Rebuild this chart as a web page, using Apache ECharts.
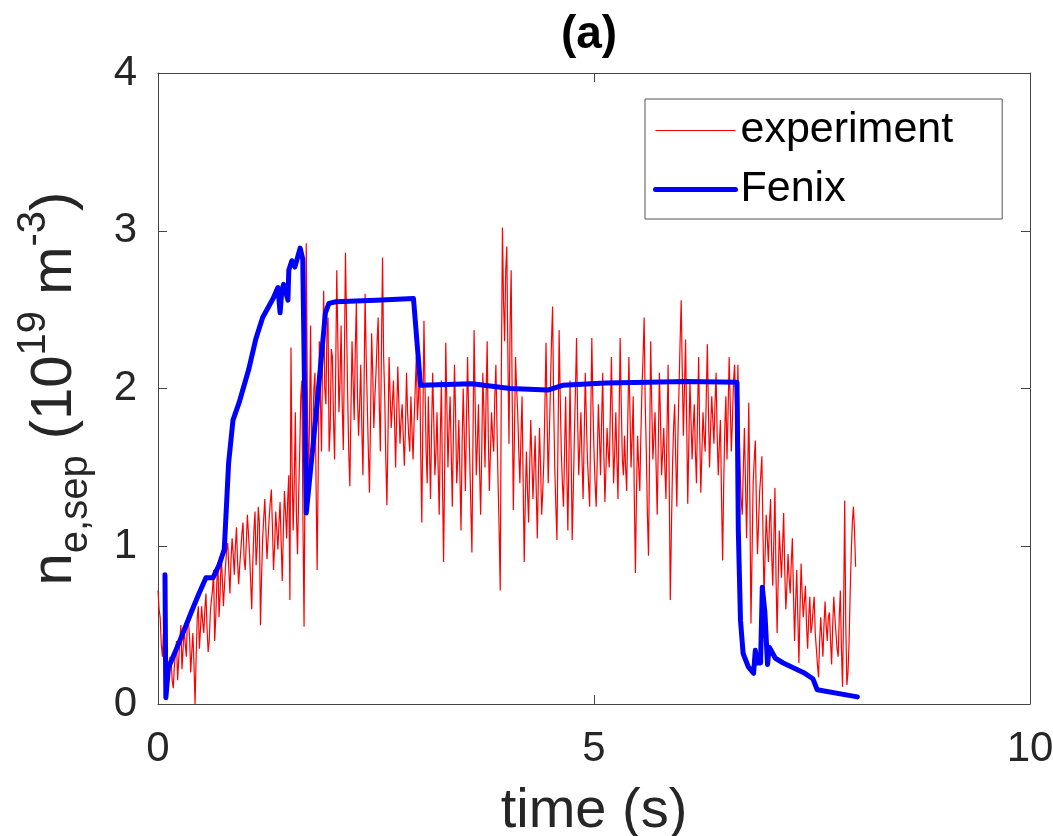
<!DOCTYPE html>
<html>
<head>
<meta charset="utf-8">
<script src="https://cdn.jsdelivr.net/npm/echarts@6/dist/echarts.min.js"></script>
<style>html,body{margin:0;padding:0;background:#fff}#c{width:1053px;height:836px}</style>
</head>
<body>
<div id="c"></div>
<script>
// ---- data ----
var seriesNames = ['experiment', 'Fenix'];
var titleText = '(a)';
var xName = 'time (s)';
// experiment: sampled every expStep seconds starting at expStart (one row = 0.5 s)
var expStart = 0;
var expStep = 0.0125;
var expValues = [
0.72,0.60,0.55,0.38,0.30,0.45,0.12,0.22,0.35,0.25,0.18,0.30,0.28,0.15,0.10,0.24,0.32,0.40,0.15,0.28,0.40,0.50,0.22,0.35,0.48,0.38,0.30,0.55,0.52,0.42,0.20,0.33,0.45,0.25,0.00,0.30,0.55,0.62,0.35,0.48,
0.62,0.52,0.45,0.60,0.70,0.48,0.33,0.40,0.58,0.66,0.72,0.85,0.40,0.55,0.78,0.90,0.55,0.70,0.95,0.80,0.62,0.75,0.88,0.98,1.02,0.85,0.70,0.92,1.05,0.95,0.82,1.00,1.12,0.90,0.76,0.88,0.98,1.08,1.15,0.92,
0.85,1.02,1.20,1.08,0.95,0.78,0.60,0.90,1.10,1.22,0.88,1.00,1.25,1.15,0.50,0.80,1.05,1.18,1.30,1.10,0.92,1.05,1.18,1.28,1.36,1.12,0.85,1.00,1.22,1.10,0.98,1.15,1.28,1.02,0.78,1.10,1.35,1.22,1.05,1.30,
1.45,0.66,2.26,1.50,1.10,1.40,1.85,1.20,0.95,1.30,1.60,1.95,2.05,1.15,0.49,1.60,2.92,2.00,1.35,1.80,2.40,1.55,1.70,2.00,2.10,1.40,0.85,1.50,2.30,1.95,1.60,2.20,2.62,2.00,1.90,2.35,2.45,1.60,1.75,2.25,
2.20,1.80,1.55,2.10,2.75,2.30,1.85,2.05,2.40,1.90,1.61,2.20,2.86,2.40,1.95,1.60,1.38,1.85,2.30,2.05,1.80,2.25,2.55,1.95,1.70,1.90,2.15,1.75,1.45,2.00,2.60,2.20,1.90,1.60,1.34,1.80,2.35,2.10,1.75,1.95,
2.10,2.30,2.45,1.90,1.60,2.25,2.83,2.20,1.95,1.55,1.26,1.70,2.20,1.95,1.75,1.90,2.05,1.80,1.50,1.85,2.14,1.90,1.65,1.80,1.90,1.70,1.51,1.75,2.10,1.85,1.70,1.60,1.95,1.75,1.55,1.80,2.00,2.20,1.80,1.95,
2.22,1.60,1.15,1.80,2.43,2.00,1.60,1.40,1.95,1.65,1.30,1.75,2.10,1.80,1.45,1.60,1.85,1.50,1.20,1.70,2.05,1.40,0.90,1.50,2.29,1.90,1.50,1.75,1.95,1.60,1.25,1.70,2.15,1.85,1.40,1.55,1.80,1.45,1.10,1.65,
2.00,1.70,1.35,1.80,2.20,1.85,1.55,1.25,0.96,1.70,2.37,1.90,1.45,1.65,1.90,1.50,1.20,1.60,2.10,1.85,1.50,1.95,2.30,1.70,1.35,1.60,1.85,1.70,1.60,1.95,2.15,1.75,1.40,1.10,0.72,2.10,3.02,2.55,2.30,2.75,
2.90,2.20,1.65,2.40,2.75,1.90,1.23,1.70,2.20,2.00,1.85,1.60,1.40,1.70,1.95,1.40,0.90,1.30,1.60,1.35,1.15,1.50,1.80,1.55,1.30,1.50,1.70,1.35,1.05,1.45,1.75,1.50,1.20,1.35,1.55,1.90,2.29,1.80,1.40,1.70,
2.00,2.30,2.52,1.90,1.50,1.25,1.04,1.70,2.37,1.95,1.60,1.40,1.25,1.60,1.95,1.50,1.10,1.55,2.05,1.60,1.04,1.35,1.70,2.00,2.32,1.80,1.45,1.65,1.85,1.55,1.30,1.70,2.10,1.80,1.55,1.40,1.25,1.80,2.32,1.90,
1.60,1.40,1.25,1.55,1.90,1.70,1.45,1.80,2.10,1.60,1.28,1.50,1.75,1.60,1.50,1.85,2.20,1.75,1.40,1.60,1.85,1.55,1.30,1.80,2.32,1.90,1.55,1.45,1.70,1.50,1.35,1.80,2.20,1.85,1.50,1.70,1.95,1.30,0.83,1.35,
1.70,1.50,1.35,1.70,2.00,2.20,2.45,1.90,1.60,1.20,0.94,1.60,2.30,1.90,1.55,1.70,1.85,1.50,1.20,1.65,2.10,1.80,1.45,1.60,1.75,1.50,1.30,1.75,2.15,1.40,0.66,1.10,1.50,1.75,1.90,1.55,1.25,1.70,2.00,2.30,
2.56,2.10,1.70,2.00,2.31,1.80,1.27,1.65,2.05,1.80,1.55,1.75,1.90,1.60,1.40,1.85,2.20,1.70,1.34,1.60,1.85,1.70,1.60,1.95,2.28,1.85,1.50,1.75,1.95,1.80,1.65,1.90,2.10,1.70,1.45,1.65,1.80,1.30,0.91,1.40,
1.75,1.95,1.55,1.85,2.20,1.90,1.60,1.80,2.05,2.15,1.85,1.60,2.15,1.80,1.50,1.30,1.20,1.50,1.75,1.40,1.05,1.45,1.91,1.30,0.51,0.95,1.40,1.55,1.67,1.25,0.95,1.15,1.35,1.45,1.57,1.10,0.68,0.95,1.20,1.05,
0.90,1.15,1.30,0.95,0.75,1.05,1.37,0.80,0.45,0.80,1.10,0.95,0.80,1.00,1.21,0.85,0.60,0.75,0.95,0.80,0.70,0.90,1.05,0.70,0.40,0.65,0.85,0.55,0.26,0.60,0.89,0.70,0.55,0.65,0.75,0.50,0.35,0.55,0.68,0.45,
0.50,0.60,0.68,0.45,0.35,0.25,0.17,0.40,0.55,0.42,0.30,0.50,0.65,0.50,0.40,0.55,0.58,0.40,0.25,0.50,0.68,0.55,0.45,0.35,0.30,0.55,0.72,0.35,0.11,0.60,1.29,0.50,0.12,0.20,0.39,0.70,0.95,1.15,1.25,1.10,
0.87
];
// Fenix simulation: time (s) and value
var fenixT = [0.08,0.09,0.12,0.25,0.38,0.47,0.55,0.63,0.70,0.76,0.81,0.86,0.93,1.04,1.12,1.20,1.32,1.375,1.40,1.42,1.44,1.49,1.50,1.535,1.57,1.63,1.66,1.70,1.81,1.92,1.96,2.04,2.50,2.93,3.01,3.60,4.04,4.47,4.64,5.13,5.62,6.05,6.64,6.655,6.68,6.71,6.77,6.83,6.85,6.87,6.91,6.93,6.96,6.99,7.01,7.08,7.17,7.40,7.51,7.56,8.02];
var fenixV = [0.82,0.04,0.23,0.40,0.58,0.70,0.80,0.80,0.88,0.98,1.53,1.80,1.91,2.12,2.31,2.45,2.57,2.64,2.48,2.62,2.66,2.56,2.75,2.81,2.77,2.89,2.82,1.21,1.82,2.48,2.54,2.55,2.56,2.57,2.02,2.03,2.00,1.99,2.02,2.035,2.04,2.045,2.04,1.10,0.53,0.32,0.235,0.195,0.34,0.26,0.26,0.74,0.58,0.25,0.36,0.29,0.26,0.20,0.16,0.09,0.045];
var xMin = 0, xMax = 10, xInterval = 5;
var yMin = 0, yMax = 4, yInterval = 1;

// ---- build ----
var expData = expValues.map(function (v, i) { return [+(expStart + i * expStep).toFixed(4), v]; });
var fenixData = fenixT.map(function (t, i) { return [t, fenixV[i]]; });

var FONT = "'Liberation Sans', Arial, Helvetica, sans-serif";
var AX = '#444';
var TXT = '#262626';
var RED = '#ff0000', BLUE = '#0000ff';
var RED_W = 1.2, BLUE_W = 5;
var chart = echarts.init(document.getElementById('c'), null, {renderer: 'canvas'});
function axisBase(extra) {
  var o = {
    type: 'value',
    axisLine: {show: true, onZero: false, lineStyle: {color: AX, width: 1}},
    axisTick: {show: true, inside: true, length: 9, lineStyle: {color: AX, width: 1}},
    splitLine: {show: false},
    axisLabel: {show: false}
  };
  for (var k in extra) o[k] = extra[k];
  return o;
}
chart.setOption({
  animation: false,
  backgroundColor: '#fff',
  title: {
    text: titleText, left: 584, top: 7, textAlign: 'center',
    textStyle: {fontFamily: FONT, fontSize: 46, fontWeight: 'bold', color: '#000'}
  },
  grid: {left: 158, right: 23, top: 73, bottom: 132, containLabel: false, outerBoundsMode: 'none'},
  legend: {
    data: [
      {name: seriesNames[0], lineStyle: {width: RED_W, color: RED}, itemStyle: {opacity: 0}},
      {name: seriesNames[1], lineStyle: {width: BLUE_W, color: BLUE}, itemStyle: {opacity: 0}}
    ],
    orient: 'vertical', left: 645, top: 99,
    itemWidth: 80, itemHeight: 14, itemGap: 16,
    padding: [10, 49, 8, 8],
    borderColor: '#555', borderWidth: 1, backgroundColor: '#fff',
    itemStyle: {opacity: 0},
    textStyle: {fontFamily: FONT, fontSize: 43, color: '#000'}
  },
  xAxis: [
    axisBase({
      min: xMin, max: xMax, interval: xInterval, position: 'bottom',
      axisLabel: {show: true, fontFamily: FONT, fontSize: 42, color: TXT, margin: 24},
      name: xName, nameLocation: 'middle', nameGap: 80,
      nameTextStyle: {fontFamily: FONT, fontSize: 56, color: TXT}
    }),
    axisBase({min: xMin, max: xMax, interval: xInterval, position: 'top'})
  ],
  yAxis: [
    axisBase({
      min: yMin, max: yMax, interval: yInterval, position: 'left',
      axisLabel: {show: true, fontFamily: FONT, fontSize: 42, color: TXT, margin: 21},
      name: '{n|n}{sub|e,sep}{b| (10}{sup|19}{b| m}{sup|-3}{b|)}',
      nameLocation: 'middle', nameRotate: 90, nameGap: 62,
      nameTextStyle: {
        color: TXT, fontFamily: FONT,
        rich: {
          n: {fontFamily: FONT, fontSize: 58, lineHeight: 82, verticalAlign: 'middle', color: TXT},
          b: {fontFamily: FONT, fontSize: 58, lineHeight: 82, verticalAlign: 'middle', color: TXT},
          sub: {fontFamily: FONT, fontSize: 40, lineHeight: 40, verticalAlign: 'bottom', color: TXT},
          sup: {fontFamily: FONT, fontSize: 40, lineHeight: 40, verticalAlign: 'top', color: TXT}
        }
      }
    }),
    axisBase({min: yMin, max: yMax, interval: yInterval, position: 'right'})
  ],
  series: [
    {
      name: seriesNames[0], type: 'line', data: expData, showSymbol: false, symbol: 'none',
      lineStyle: {color: RED, width: RED_W}, itemStyle: {color: RED}, z: 2
    },
    {
      name: seriesNames[1], type: 'line', data: fenixData, showSymbol: false, symbol: 'none',
      lineStyle: {color: BLUE, width: BLUE_W, join: 'round', cap: 'round'}, itemStyle: {color: BLUE}, z: 3
    }
  ]
});
</script>
</body>
</html>
